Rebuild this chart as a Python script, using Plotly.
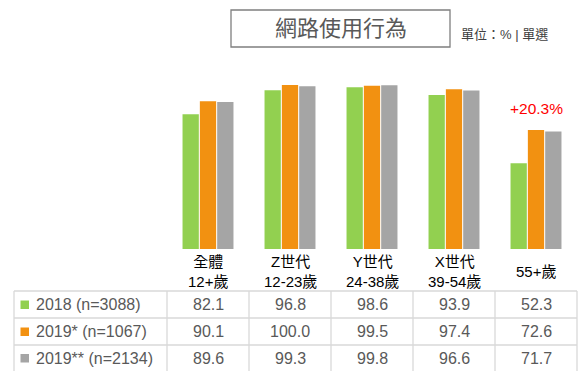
import plotly.graph_objects as go

categories = ["全體", "Z世代", "Y世代", "X世代", "55+歲"]
category_labels = ["全體<br>12+歲", "Z世代<br>12-23歲", "Y世代<br>24-38歲", "X世代<br>39-54歲", "55+歲"]
series_names = ["2018 (n=3088)", "2019* (n=1067)", "2019** (n=2134)"]
v2018 = [82.1, 96.8, 98.6, 93.9, 52.3]
v2019a = [90.1, 100.0, 99.5, 97.4, 72.6]
v2019b = [89.6, 99.3, 99.8, 96.6, 71.7]
colors = ["#92D050", "#F29111", "#A5A5A5"]
title_text = "網路使用行為"
unit_text = "單位：% | 單選"
highlight_text = "+20.3%"

FONT = "Liberation Sans, Arial, Noto Sans CJK TC, sans-serif"
W, H = 588, 388
L, R, T, B = 167, 11, 60, 139
PW = W - L - R
PH = H - T - B


def px_x(px):
    return (px - L) / PW


def px_y(py):
    return (H - B - py) / PH


fig = go.Figure()
series_vals = [v2018, v2019a, v2019b]
for name, vals, col in zip(series_names, series_vals, colors):
    fig.add_trace(go.Bar(x=categories, y=vals, name=name, marker=dict(color=col, line=dict(width=0)),
                         hoverinfo="y"))

shapes = []
annotations = []

# title box
shapes.append(dict(type="rect", xref="paper", yref="paper", x0=px_x(231), x1=px_x(450), y0=px_y(47), y1=px_y(10),
                   line=dict(color="#7F7F7F", width=1.3), fillcolor="rgba(0,0,0,0)"))
annotations.append(dict(text=title_text, xref="paper", yref="paper", x=px_x(340.5), y=px_y(28.5), showarrow=False,
                        xanchor="center", yanchor="middle", font=dict(size=22, color="#595959", family=FONT)))
annotations.append(dict(text=unit_text, xref="paper", yref="paper", x=px_x(459), y=px_y(35), showarrow=False,
                        xanchor="left", yanchor="middle", font=dict(size=13, color="#404040", family=FONT)))

# highlight
annotations.append(dict(text=highlight_text, xref="x", yref="paper", x=categories[4], y=px_y(108), showarrow=False,
                        xanchor="center", yanchor="middle", font=dict(size=15.5, color="#FF0000", family=FONT)))

# category labels
for k, lab in zip(categories, category_labels):
    annotations.append(dict(text=lab, xref="x", yref="paper", x=k, y=px_y(271.5), showarrow=False,
                            xanchor="center", yanchor="middle", font=dict(size=15, color="#000000", family=FONT)))

# table grid
grid = "#D9D9D9"
row_lines = [291, 318, 345]
for ry in row_lines:
    shapes.append(dict(type="line", xref="paper", yref="paper", x0=px_x(14), x1=px_x(577), y0=px_y(ry), y1=px_y(ry),
                       line=dict(color=grid, width=1.3)))
col_lines = [14, 167, 249, 331, 413, 495, 577]
for cx in col_lines:
    shapes.append(dict(type="line", xref="paper", yref="paper", x0=px_x(cx), x1=px_x(cx), y0=px_y(291), y1=px_y(371),
                       line=dict(color=grid, width=1.3)))

row_centers = [304.5, 331.5, 358]
for rc, name, vals, col in zip(row_centers, series_names, series_vals, colors):
    shapes.append(dict(type="rect", xref="paper", yref="paper", x0=px_x(20.5), x1=px_x(29), y0=px_y(rc + 4.5),
                       y1=px_y(rc - 4), line=dict(width=0), fillcolor=col))
    annotations.append(dict(text=name, xref="paper", yref="paper", x=px_x(34), y=px_y(rc), showarrow=False,
                            xanchor="left", yanchor="middle", font=dict(size=16, color="#595959", family=FONT)))
    for k, v in zip(categories, vals):
        annotations.append(dict(text=f"{v:.1f}", xref="x", yref="paper", x=k, y=px_y(rc), showarrow=False,
                                xanchor="center", yanchor="middle", font=dict(size=16, color="#595959", family=FONT)))

fig.update_layout(
    width=W, height=H,
    margin=dict(l=L, r=R, t=T, b=B, autoexpand=False),
    paper_bgcolor="white", plot_bgcolor="white",
    barmode="group", bargap=0.366, bargroupgap=0.06,
    showlegend=False,
    shapes=shapes, annotations=annotations,
    xaxis=dict(type="category", showticklabels=False, showgrid=False, zeroline=False, showline=False, ticks="",
               range=[-0.5, 4.5]),
    yaxis=dict(visible=False, range=[0, 100 * PH / 164], showgrid=False, zeroline=False),
    font=dict(family=FONT),
)

fig.write_html("out.html", config={"displayModeBar": False},
               post_script="document.body.style.margin='0';document.body.style.overflow='hidden';")
